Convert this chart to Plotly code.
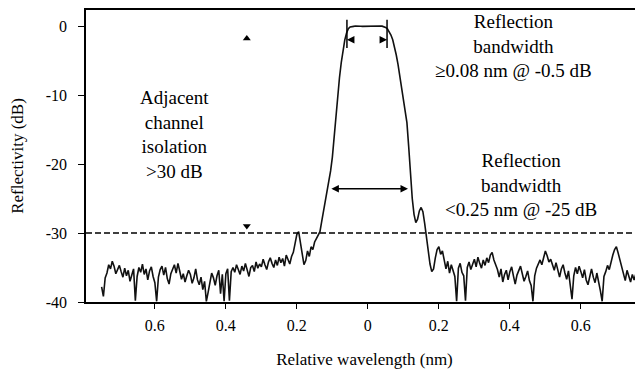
import plotly.graph_objects as go

# ---------------- data ----------------
STEP = 0.005  # nm, sampling step of the measured spectrum

left_noise_start = -0.750
left_noise = [
    -37.8, -39.2, -36.5, -35.8, -34.6, -35.2, -34.1, -34.8, -35.9, -35.3,
    -34.7, -35.6, -36.4, -35.1, -36.2, -35.4, -37.0, -36.1, -35.2, -39.8,
    -36.3, -35.0, -35.7, -34.5, -36.0, -35.2, -36.8, -35.5, -34.9, -36.3,
    -37.2, -39.9, -36.4, -35.3, -34.8, -36.1, -35.0, -36.6, -37.4, -35.9,
    -35.1, -34.6, -35.8, -34.4, -35.5, -36.7, -35.9, -37.1, -36.2, -35.4,
    -36.0, -37.3, -36.5, -35.2, -36.8, -37.5, -36.4, -38.2, -37.0, -39.9,
    -38.6, -36.9, -35.8, -36.5, -37.6, -36.2, -35.4, -38.8, -36.0, -39.9,
    -35.9, -35.2, -39.8, -35.6, -35.0, -35.7, -34.6, -35.3, -36.0, -34.8,
    -35.5, -34.4, -35.2, -36.3, -35.0, -34.7, -35.6, -34.2, -35.1, -34.5,
    -34.9, -33.8, -34.6, -35.3, -34.2, -33.6, -34.4, -35.0, -33.9, -34.7,
    -33.5, -34.3, -33.7, -34.8, -33.2, -33.9, -34.5, -33.4,
]
left_skirt_start = -0.210
left_skirt = [
    -32.8, -31.5, -30.2, -29.8, -31.2, -33.0, -34.6, -34.0, -32.6, -33.4,
    -32.0, -32.4, -31.3, -30.8, -30.4, -29.8,
]
rise_start = -0.130
rise = [
    -28.3, -26.8, -25.5, -24.2, -22.8, -21.0, -19.0, -16.0, -13.0, -10.0,
    -7.5, -5.3, -3.5, -2.0, -1.0, -0.4, -0.15, -0.05,
]
top_start = -0.040
top = [
    -0.05, 0.0, 0.02, 0.0, -0.03, -0.05, -0.04, -0.02, 0.0, 0.02,
    0.0, -0.03, -0.05, -0.03, 0.0, 0.01, -0.02, -0.08,
]
fall_start = 0.050
fall = [
    -0.2, -0.4, -0.8, -1.3, -2.0, -3.0, -4.2, -5.6, -7.2, -9.0,
    -10.8, -12.3, -14.0, -17.5, -21.5, -25.0, -27.3, -28.5, -28.0, -26.8,
    -26.3, -26.9, -28.6, -30.6, -32.8, -34.5, -35.6, -35.2, -33.6, -32.4,
    -32.0, -33.1, -32.6, -34.0,
]
right_noise_start = 0.220
right_noise = [
    -35.2, -34.1, -35.8, -34.6, -35.5, -36.3, -39.9, -35.1, -34.4, -35.7,
    -36.2, -39.8, -35.0, -34.2, -35.3, -34.6, -33.8, -34.9, -33.5, -34.4,
    -35.1, -33.9, -34.7, -33.6, -34.3, -33.2, -32.8, -33.9, -34.6, -35.3,
    -36.4, -35.2, -37.1, -36.0, -35.4, -36.8, -35.6, -34.9, -36.2, -37.4,
    -36.1, -35.3, -34.8, -35.9, -37.0, -36.3, -35.5, -36.9, -37.6, -39.9,
    -36.2, -35.1, -34.4, -33.9, -34.6, -33.5, -32.6, -33.3, -34.2, -33.8,
    -34.7, -35.4, -34.3, -35.6, -36.4, -35.2, -34.6, -35.8, -36.7, -35.5,
    -37.8, -39.6, -36.2, -35.0, -35.9, -34.8, -35.6, -36.5, -35.3, -36.8,
    -37.5, -36.1, -35.2, -36.4, -37.2, -35.8, -36.9, -38.4, -39.9, -36.3,
    -35.6, -34.7, -35.3, -34.0, -33.2, -32.4, -32.0, -32.9, -33.8, -35.0,
    -35.8, -36.9, -35.4, -36.3, -37.1, -36.0, -36.8, -35.9,
]

segments = [
    (left_noise_start, left_noise),
    (left_skirt_start, left_skirt),
    (rise_start, rise),
    (top_start, top),
    (fall_start, fall),
    (right_noise_start, right_noise),
]
wavelength, reflectivity = [], []
for start, vals in segments:
    for i, v in enumerate(vals):
        wavelength.append(round(start + i * STEP, 4))
        reflectivity.append(v)

x_tickvals = [-0.6, -0.4, -0.2, 0.0, 0.2, 0.4, 0.6]
x_ticktext = ["0.6", "0.4", "0.2", "0", "0.2", "0.4", "0.6"]
y_tickvals = [0, -10, -20, -30, -40]
y_ticktext = ["0", "-10", "-20", "-30", "-40"]

isolation_level = -30            # dashed line (dB)
isolation_arrow_x = [-0.341, -0.341]
isolation_arrow_y = [-1.8, -29.0]
bw05_edges = [-0.059, 0.054]     # -0.5 dB bandwidth marker bars (nm)
bw05_bar_y = [0.9, -3.2]
bw05_arrow_y = -2.0
bw25_edges = [-0.107, 0.113]     # -25 dB bandwidth arrow (nm)
bw25_arrow_y = -23.6

FONT = "Liberation Serif"

fig = go.Figure()
fig.add_trace(go.Scatter(x=wavelength, y=reflectivity, mode="lines",
                         line=dict(color="#111111", width=1.6),
                         showlegend=False, hoverinfo="skip"))
fig.add_hline(y=isolation_level, line=dict(color="black", width=1.3, dash="6px,3px"))
fig.add_trace(go.Scatter(x=isolation_arrow_x, y=isolation_arrow_y, mode="markers",
                         marker=dict(symbol=["triangle-up", "triangle-down"], size=7,
                                     color="black"),
                         showlegend=False, hoverinfo="skip"))
for xe in bw05_edges:
    fig.add_trace(go.Scatter(x=[xe, xe], y=bw05_bar_y, mode="lines",
                             line=dict(color="black", width=1.5),
                             showlegend=False, hoverinfo="skip"))
fig.add_annotation(x=bw05_edges[0], y=bw05_arrow_y, ax=7, ay=0, showarrow=True,
                   arrowhead=2, arrowsize=1, arrowwidth=1.5, arrowcolor="black", text="")
fig.add_annotation(x=bw05_edges[1], y=bw05_arrow_y, ax=-7, ay=0, showarrow=True,
                   arrowhead=2, arrowsize=1, arrowwidth=1.5, arrowcolor="black", text="")
fig.add_annotation(x=bw25_edges[1], y=bw25_arrow_y, ax=bw25_edges[0], ay=bw25_arrow_y,
                   axref="x", ayref="y", showarrow=True, arrowhead=2, startarrowhead=2,
                   arrowside="end+start", arrowsize=1, arrowwidth=1.5,
                   arrowcolor="black", text="")

text_font = dict(family=FONT, size=19, color="black")
fig.add_annotation(x=0.41, y=-2.9, xref="x", yref="y", showarrow=False,
                   text="Reflection<br>bandwidth<br>≥0.08 nm @ -0.5 dB",
                   font=text_font, align="center")
fig.add_annotation(x=-0.545, y=-15.7, xref="x", yref="y", showarrow=False,
                   text="Adjacent<br>channel<br>isolation<br>>30 dB",
                   font=text_font, align="center")
fig.add_annotation(x=0.43, y=-23.0, xref="x", yref="y", showarrow=False,
                   text="Reflection<br>bandwidth<br><0.25 nm @ -25 dB",
                   font=text_font, align="center")

# The page body has an 8px default margin, so the figure is sized to the
# remaining window area and the margins are compensated accordingly.
fig.update_layout(
    width=635, height=361,
    margin=dict(l=78, r=0, t=2, b=67),
    paper_bgcolor="white", plot_bgcolor="white",
    font=dict(family=FONT, size=16, color="black"),
    xaxis=dict(range=[-0.794, 0.775], tickvals=x_tickvals, ticktext=x_ticktext,
               automargin=False,
               showline=True, linecolor="black", linewidth=1.5, mirror=True,
               ticks="outside", ticklen=5, tickcolor="black", showgrid=False,
               zeroline=False, ticklabelstandoff=3,
               title=dict(text="Relative wavelength (nm)", standoff=20,
                          font=dict(family=FONT, size=17))),
    yaxis=dict(range=[-40, 2.32], tickvals=y_tickvals, ticktext=y_ticktext,
               automargin=False,
               showline=True, linecolor="black", linewidth=1.5,
               ticks="outside", ticklen=6, tickcolor="black", showgrid=False,
               zeroline=False, ticklabelstandoff=8,
               title=dict(text="Reflectivity (dB)", standoff=24,
                          font=dict(family=FONT, size=17))),
)

fig.write_html("out.html")
